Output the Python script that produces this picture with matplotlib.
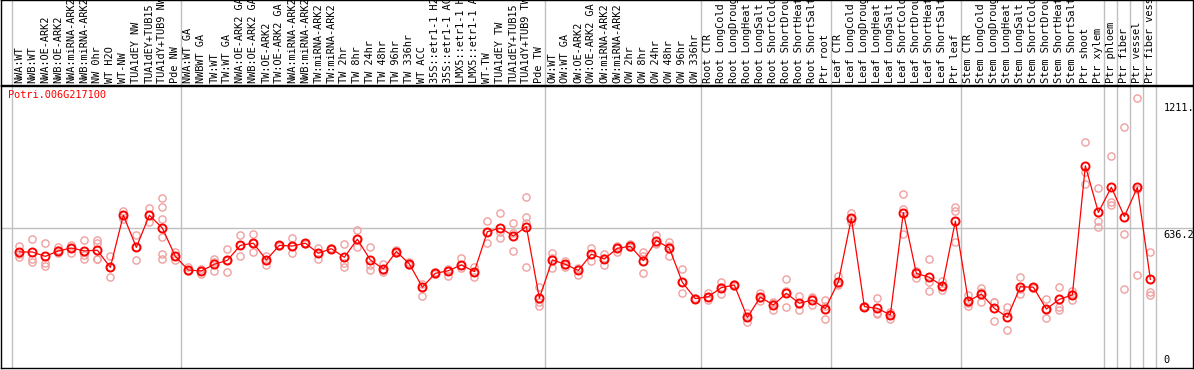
"""
Potri.006G217100 expression profile
"""

import matplotlib
matplotlib.use('Agg')
from matplotlib import pyplot as plt
from matplotlib import transforms

gene_name = 'Potri.006G217100'

sample_labels = [
    'NWA:WT', 'NWB:WT', 'NWA:OE-ARK2', 'NWB:OE-ARK2', 'NWA:miRNA-ARK2',
    'NWB:miRNA-ARK2', 'NW 0hr', 'WT H2O', 'WT-NW', 'TUA1dEY NW',
    'TUA1dEY+TUB15', 'TUA1dY+TUB9 NW', 'Pde NW',
    'NWA:WT GA', 'NWBWT GA', 'TW:WT', 'TW:WT GA', 'NWA:OE-ARK2 GA',
    'NWB:OE-ARK2 GA', 'TW:OE-ARK2', 'TW:OE-ARK2 GA', 'NWA:miRNA-ARK2',
    'NWB:miRNA-ARK2', 'TW:miRNA-ARK2', 'TW:miRNA-ARK2', 'TW 2hr', 'TW 8hr',
    'TW 24hr', 'TW 48hr', 'TW 96hr', 'TW 336hr', 'WT ACC',
    '35S::etr1-1 H2O', '35S::etr1-1 ACC', 'LMX5::etr1-1 H2O',
    'LMX5::etr1-1 ACC', 'WT-TW', 'TUA1dEY TW', 'TUA1dEY+TUB15',
    'TUA1dY+TUB9 TW', 'Pde TW',
    'OW:WT', 'OW:WT GA', 'OW:OE-ARK2', 'OW:OE-ARK2 GA', 'OW:miRNA-ARK2',
    'OW:miRNA-ARK2', 'OW 2hr', 'OW 8hr', 'OW 24hr', 'OW 48hr', 'OW 96hr',
    'OW 336hr',
    'Root CTR', 'Root LongCold', 'Root LongDrought', 'Root LongHeat',
    'Root LongSalt', 'Root ShortCold', 'Root ShortDrought', 'Root ShortHeat',
    'Root ShortSalt', 'Ptr root',
    'Leaf CTR', 'Leaf LongCold', 'Leaf LongDrought', 'Leaf LongHeat',
    'Leaf LongSalt', 'Leaf ShortCold', 'Leaf ShortDrought', 'Leaf ShortHeat',
    'Leaf ShortSalt', 'Ptr leaf',
    'Stem CTR', 'Stem LongCold', 'Stem LongDrought', 'Stem LongHeat',
    'Stem LongSalt', 'Stem ShortCold', 'Stem ShortDrought', 'Stem ShortHeat',
    'Stem ShortSalt', 'Ptr shoot', 'Ptr xylem',
    'Ptr phloem', 'Ptr fiber', 'Ptr vessel', 'Ptr fiber vessel',
]

mean_values = [
    527, 527, 507, 532, 545, 532, 535, 457, 694, 548, 694, 636, 507,
    445, 441, 471, 489, 557, 567, 491, 557, 554, 567, 521, 542, 503, 585,
    491, 450, 529, 473, 367, 430, 442, 468, 438, 619, 636, 600, 642, 317,
    491, 471, 443, 517, 495, 544, 553, 488, 579, 545, 389, 315,
    324, 365, 377, 230, 322, 286, 339, 294, 309, 270,
    392, 680, 279, 271, 241, 706, 430, 412, 373, 667,
    304, 336, 271, 230, 369, 367, 268, 312, 332, 918, 707,
    821, 688, 821, 403,
]

replicate_values = [
    [554, 518, 503], [586, 494, 480], [568, 476, 465], [548, 536, 521],
    [557, 545, 521], [580, 512, 495], [583, 567, 497, 494], [507, 457, 412],
    [715, 694, 679], [603, 548, 491], [726, 694, 663],
    [771, 733, 676, 594, 518, 497], [529, 507, 492],
    [457, 445, 440], [450, 441, 427], [494, 482, 442], [539, 491, 435],
    [604, 557, 507], [609, 567, 527], [507, 491, 468], [560, 557, 553],
    [589, 554, 521], [570, 567, 564], [544, 521, 494], [545, 542, 539],
    [563, 478, 457], [627, 585, 548], [548, 468, 445], [471, 445, 438],
    [536, 529, 521], [483, 473, 468], [380, 367, 328], [435, 430, 427],
    [450, 442, 418], [498, 468, 453], [458, 438, 415], [669, 619, 569],
    [703, 617, 589], [657, 611, 532], [776, 688, 657, 458], [369, 300, 282],
    [521, 498, 453], [488, 466, 460], [456, 449, 423], [547, 517, 488],
    [517, 500, 468], [556, 547, 529], [563, 548, 548], [526, 508, 430],
    [604, 570, 563], [574, 552, 509], [448, 389, 339], [318, 315, 312],
    [342, 321, 309], [391, 368, 336], [380, 377, 374], [251, 230, 209],
    [342, 318, 306], [301, 293, 264], [403, 351, 276], [327, 291, 264],
    [324, 316, 286], [309, 280, 221],
    [418, 381, 377], [706, 680, 665], [282, 279, 276], [317, 251, 245],
    [256, 246, 221], [791, 721, 609], [442, 440, 408], [494, 392, 351],
    [397, 368, 354], [730, 715, 574],
    [332, 294, 282], [362, 345, 301], [299, 299, 215], [276, 251, 173],
    [412, 359, 336], [370, 367, 364], [312, 266, 226], [367, 279, 264],
    [351, 336, 309], [1026, 892, 836], [817, 669, 639],
    [963, 756, 741], [1094, 607, 358], [1225, 815, 423], [526, 347, 332],
]

# last sample index of each block, a grey separator is drawn after it
group_ends = [-1, 12, 40, 52, 62, 72, 83, 84, 85, 86, 87]

y_ticks = [0, 636.2, 1211]
y_tick_labels = ['0', '636.2', '1211.']


def plot():
    W, H = 1194, 370
    font = 'DejaVu Sans Mono'
    fs = 7.4
    grey = '#c0c0c0'
    x_lim = (-1.41, 90.28)

    fig = plt.figure(figsize=(W / 100, H / 100), dpi=100)
    ax = fig.add_axes([1 / W, 2 / H, 1192 / W, 282 / H])
    ax_lab = fig.add_axes([1 / W, 285 / H, 1192 / W, 85 / H])

    for a in (ax, ax_lab):
        a.set_xlim(*x_lim)
        a.set_xticks([])
        a.set_yticks([])
        for s in a.spines.values():
            s.set_color('black')
            s.set_linewidth(1.0)
        for g in group_ends:
            a.axvline(g + 0.4, color=grey, lw=1.0, zorder=0)

    ax.set_ylim(0, 1281)
    ax.axhline(636.2, color=grey, lw=1.0, zorder=0)

    # replicates
    for i, reps in enumerate(replicate_values):
        ax.plot([i] * len(reps), reps, linestyle='none', marker='o',
                markersize=5.2, markerfacecolor='none',
                markeredgecolor='#f0a0a0', markeredgewidth=1.0, zorder=2)

    # mean line
    ax.plot(range(len(mean_values)), mean_values, color='red', lw=0.9,
            marker='o', markersize=5.8, markerfacecolor='none',
            markeredgecolor='red', markeredgewidth=1.4, zorder=3)

    # sample labels
    ax_lab.set_ylim(0, 85)
    for i, lab in enumerate(sample_labels):
        ax_lab.text(i, 2, lab, rotation=90, ha='center', va='bottom',
                    family=font, fontsize=fs, color='black', clip_on=True)

    # y tick labels inside the plot on the right
    trans = transforms.blended_transform_factory(ax.transAxes, ax.transData)
    for v, t in zip(y_ticks, y_tick_labels):
        if v == 0:
            ax.text(0.9755, 12, t, transform=trans, ha='left', va='bottom',
                    family=font, fontsize=fs, color='black')
        else:
            ax.text(0.9755, v - 8, t, transform=trans, ha='left', va='top',
                    family=font, fontsize=fs, color='black', clip_on=False)

    fig.text(8 / W, 1 - 90 / H, gene_name, color='red', ha='left', va='top',
             family=font, fontsize=fs)

    plt.savefig('out.png', dpi=100)


if __name__ == '__main__':
    plot()
